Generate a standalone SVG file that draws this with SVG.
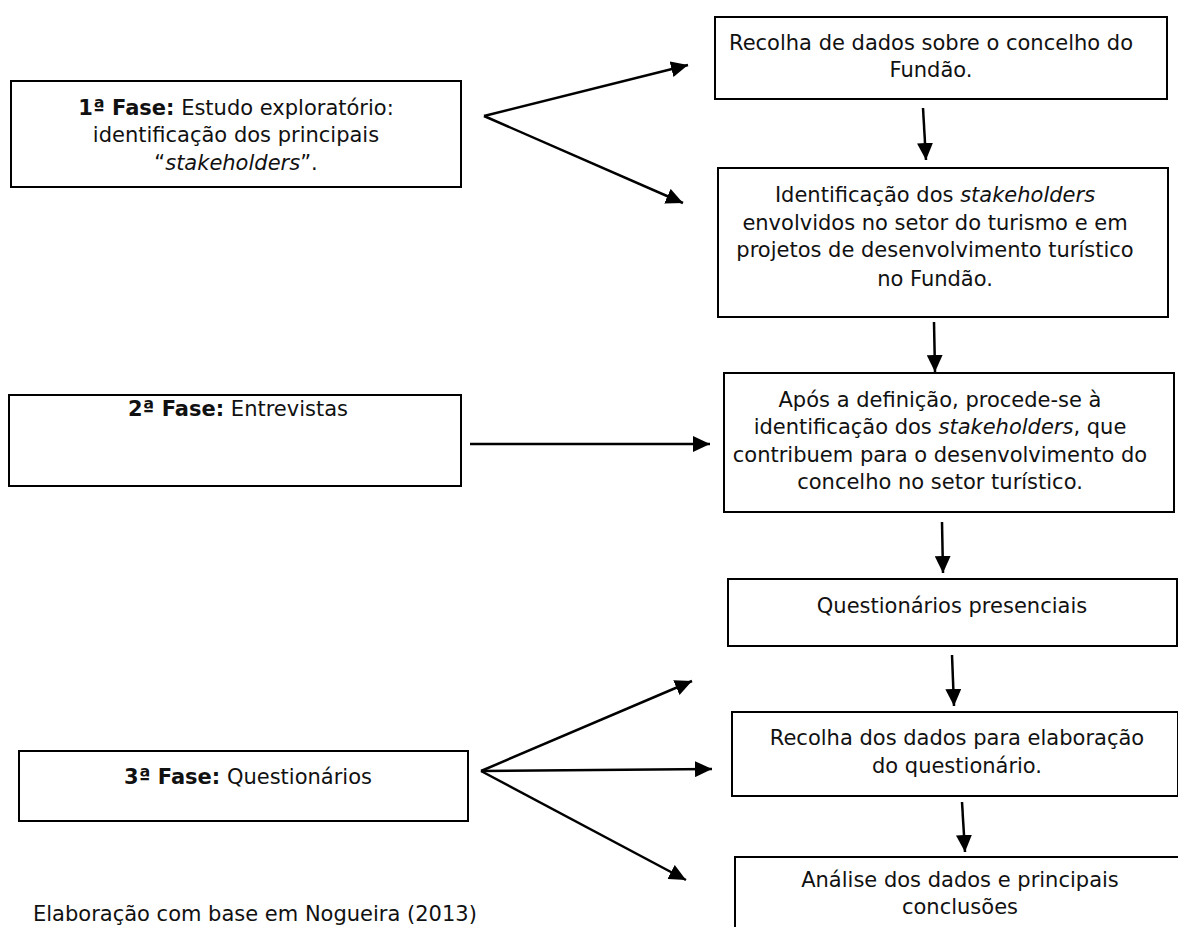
<svg xmlns="http://www.w3.org/2000/svg" width="1178" height="927" viewBox="0 0 1178 927">
  <defs>
    <marker id="arrow" markerUnits="userSpaceOnUse" markerWidth="18" markerHeight="16" refX="17" refY="8" orient="auto">
      <path d="M0,0 L17,8 L0,16 Z" fill="#000"/>
    </marker>
    <style>
      .box { fill: #fff; stroke: #000; stroke-width: 2; }
      .lbl { font-family: "DejaVu Sans", "Liberation Sans", sans-serif; font-size: 21px; fill: #111; text-anchor: middle; }
      .note { font-family: "DejaVu Sans", "Liberation Sans", sans-serif; font-size: 21px; fill: #111; }
      .b { font-weight: bold; }
      .i { font-style: italic; }
      .link { stroke: #000; stroke-width: 2.5; fill: none; marker-end: url(#arrow); }
    </style>
  </defs>

  <rect width="1178" height="927" fill="#fff"/>

  <!-- phase 1 -->
  <g id="fase1">
    <rect class="box" x="11" y="81" width="450" height="106"/>
    <text class="lbl" x="236" y="115"><tspan class="b">1ª Fase:</tspan> Estudo exploratório:</text>
    <text class="lbl" x="236" y="142">identificação dos principais</text>
    <text class="lbl" x="236" y="170">“<tspan class="i">stakeholders</tspan>”.</text>
  </g>

  <g id="recolha-concelho">
    <rect class="box" x="715" y="17" width="452" height="82"/>
    <text class="lbl" x="931" y="50">Recolha de dados sobre o concelho do</text>
    <text class="lbl" x="931" y="77">Fundão.</text>
  </g>

  <g id="identificacao">
    <rect class="box" x="718" y="168" width="450" height="149"/>
    <text class="lbl" x="935" y="202">Identificação dos <tspan class="i">stakeholders</tspan></text>
    <text class="lbl" x="935" y="230">envolvidos no setor do turismo e em</text>
    <text class="lbl" x="935" y="257">projetos de desenvolvimento turístico</text>
    <text class="lbl" x="935" y="286">no Fundão.</text>
  </g>

  <!-- phase 2 -->
  <g id="fase2">
    <rect class="box" x="9" y="395" width="452" height="91"/>
    <text class="lbl" x="238" y="416"><tspan class="b">2ª Fase:</tspan> Entrevistas</text>
  </g>

  <g id="apos-definicao">
    <rect class="box" x="724" y="373" width="450" height="139"/>
    <text class="lbl" x="940" y="407">Após a definição, procede-se à</text>
    <text class="lbl" x="940" y="434">identificação dos <tspan class="i">stakeholders</tspan>, que</text>
    <text class="lbl" x="940" y="462">contribuem para o desenvolvimento do</text>
    <text class="lbl" x="940" y="489">concelho no setor turístico.</text>
  </g>

  <g id="questionarios-presenciais">
    <rect class="box" x="728" y="579" width="449" height="67"/>
    <text class="lbl" x="952" y="613">Questionários presenciais</text>
  </g>

  <!-- phase 3 -->
  <g id="fase3">
    <rect class="box" x="19" y="751" width="449" height="70"/>
    <text class="lbl" x="248" y="784"><tspan class="b">3ª Fase:</tspan> Questionários</text>
  </g>

  <g id="recolha-questionario">
    <rect class="box" x="732" y="712" width="446" height="84"/>
    <text class="lbl" x="957" y="745">Recolha dos dados para elaboração</text>
    <text class="lbl" x="957" y="773">do questionário.</text>
  </g>

  <g id="analise">
    <rect class="box" x="735" y="857" width="460" height="90"/>
    <text class="lbl" x="960" y="887">Análise dos dados e principais</text>
    <text class="lbl" x="960" y="914">conclusões</text>
  </g>

  <g id="fonte">
    <text class="note" x="33" y="921">Elaboração com base em Nogueira (2013)</text>
  </g>

  <!-- connectors -->
  <g id="connectors">
    <line class="link" x1="484" y1="116" x2="688" y2="65"/>
    <line class="link" x1="484" y1="116" x2="683" y2="203"/>
    <line class="link" x1="923" y1="108" x2="926" y2="160"/>
    <line class="link" x1="934" y1="322" x2="935" y2="372"/>
    <line class="link" x1="470" y1="444" x2="710" y2="444"/>
    <line class="link" x1="942" y1="522" x2="943" y2="573"/>
    <line class="link" x1="952" y1="655" x2="954" y2="706"/>
    <line class="link" x1="962" y1="802" x2="965" y2="852"/>
    <line class="link" x1="481" y1="771" x2="692" y2="681"/>
    <line class="link" x1="481" y1="771" x2="712" y2="769"/>
    <line class="link" x1="481" y1="771" x2="686" y2="880"/>
  </g>
</svg>
